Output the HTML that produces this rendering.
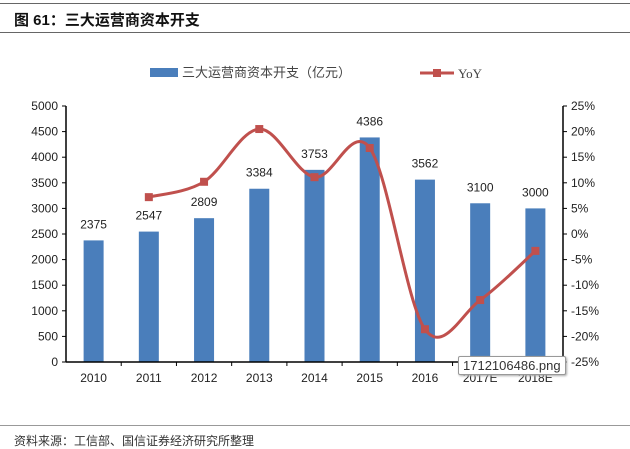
<!DOCTYPE html>
<html><head><meta charset="utf-8"><style>
body{margin:0;width:630px;height:444px;background:#fff;overflow:hidden;font-family:"Liberation Sans","Noto Sans CJK SC",sans-serif;position:relative}
.t{position:absolute}
</style></head><body>
<div class="t" style="left:0;top:3px;width:630px;height:1px;background:#666"></div>
<div class="t" style="left:14px;top:9px;font-size:15px;font-weight:bold;color:#111">图 61：三大运营商资本开支</div>
<div class="t" style="left:0;top:32px;width:630px;height:1px;background:#666"></div>
<div class="t" style="left:0;top:425px;width:630px;height:1px;background:#999"></div>
<div class="t" style="left:14px;top:432px;font-size:12px;color:#333">资料来源：工信部、国信证券经济研究所整理</div>
<svg id="c" class="t" style="left:0;top:0" width="630" height="444"></svg>
<div class="t" style="left:458px;top:356px;padding:1px 4px;border:1px solid #999;background:#fff;font-size:13px;color:#333;border-radius:2px;box-shadow:1px 1px 2px #aaa">1712106486.png</div>
<script>
const categories=["2010","2011","2012","2013","2014","2015","2016","2017E","2018E"];
const capex=[2375,2547,2809,3384,3753,4386,3562,3100,3000];
const yoy=[null,7.2,10.2,20.5,11.1,16.8,-18.6,-12.9,-3.3];
const leftTicks=[0,500,1000,1500,2000,2500,3000,3500,4000,4500,5000];
const rightTicks=[-25,-20,-15,-10,-5,0,5,10,15,20,25];
const svg=document.getElementById('c');const NS='http://www.w3.org/2000/svg';
const L=66,R=563,T=106,B=362;
const x=i=>L+(R-L)/categories.length*(i+0.5);
const yl=v=>B-(v/5000)*(B-T);
const yr=v=>B-((v+25)/50)*(B-T);
function mk(tag,attrs,name,text){const e=document.createElementNS(NS,tag);for(const k in attrs)e.setAttribute(k,attrs[k]);


if(text!==undefined)e.textContent=text;svg.appendChild(e);return e;}
// legend
mk('rect',{x:150,y:68,width:28,height:9,fill:'#4a7ebb'},'legend-capex-swatch');
mk('text',{x:182,y:77,'font-size':13,fill:'#444'},'legend-capex-label','三大运营商资本开支（亿元）');
mk('line',{x1:420,y1:73,x2:454,y2:73,stroke:'#c0504d','stroke-width':3},'legend-yoy-line');
mk('rect',{x:433,y:69,width:8,height:8,fill:'#c0504d'},'legend-yoy-marker');
mk('text',{x:458,y:78,'font-size':13,fill:'#444','font-family':'Liberation Serif'},'legend-yoy-label','YoY');
// bars
capex.forEach((v,i)=>{mk('rect',{x:x(i)-10,y:yl(v),width:20,height:B-yl(v),fill:'#4a7ebb'},'bar-'+categories[i]);
mk('text',{x:x(i),y:yl(v)-12,'font-size':12,'text-anchor':'middle',fill:'#222'},'bar-value-'+categories[i],String(v));});
// axes
mk('line',{x1:L,y1:T,x2:L,y2:B,stroke:'#000','stroke-width':1.5},'left-axis');
mk('line',{x1:R,y1:T,x2:R,y2:B,stroke:'#000','stroke-width':1.5},'right-axis');
mk('line',{x1:L,y1:B,x2:R,y2:B,stroke:'#000','stroke-width':1.5},'x-axis');
leftTicks.forEach(v=>{mk('line',{x1:L-4,y1:yl(v),x2:L,y2:yl(v),stroke:'#000'},'left-tick');
mk('text',{x:L-8,y:yl(v)+4,'font-size':12,'text-anchor':'end',fill:'#222'},'left-tick-label',String(v));});
rightTicks.forEach(v=>{mk('line',{x1:R,y1:yr(v),x2:R+4,y2:yr(v),stroke:'#000'},'right-tick');
mk('text',{x:R+8,y:yr(v)+4,'font-size':12,fill:'#222'},'right-tick-label',v+'%');});
categories.forEach((c,i)=>{mk('line',{x1:L+(R-L)/9*(i+1),y1:B,x2:L+(R-L)/9*(i+1),y2:B+4,stroke:'#000'},'x-tick');
mk('text',{x:x(i),y:B+20,'font-size':12,'text-anchor':'middle',fill:'#222'},'x-label-'+c,c);});
// smooth line
const pts=[];yoy.forEach((v,i)=>{if(v!==null)pts.push([x(i),yr(v)]);});
let d='M'+pts[0][0]+','+pts[0][1];
for(let i=0;i<pts.length-1;i++){const p0=pts[i-1]||pts[i],p1=pts[i],p2=pts[i+1],p3=pts[i+2]||p2;
d+=' C'+(p1[0]+(p2[0]-p0[0])/6)+','+(p1[1]+(p2[1]-p0[1])/6)+' '+(p2[0]-(p3[0]-p1[0])/6)+','+(p2[1]-(p3[1]-p1[1])/6)+' '+p2[0]+','+p2[1];}
mk('path',{d:d,fill:'none',stroke:'#c0504d','stroke-width':3},'yoy-line');
pts.forEach(p=>mk('rect',{x:p[0]-4,y:p[1]-4,width:8,height:8,fill:'#c0504d'},'yoy-marker'));
</script>
</body></html>
